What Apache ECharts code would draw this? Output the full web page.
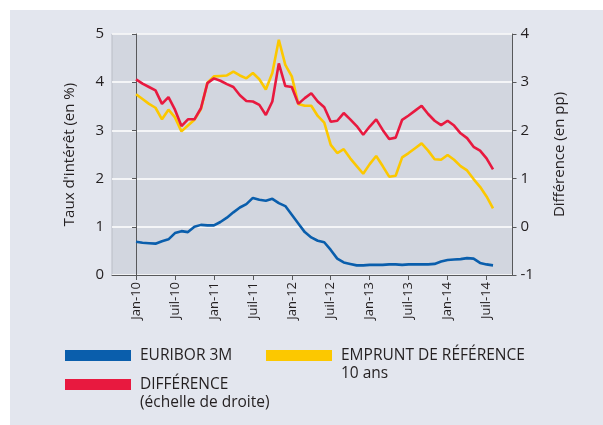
<!DOCTYPE html>
<html><head><meta charset="utf-8">
<script src="https://cdn.jsdelivr.net/npm/echarts@6/dist/echarts.min.js"></script>
<style>html,body{margin:0;padding:0;background:#fff}#c{width:603px;height:425px}</style>
</head><body><div id="c"></div>
<script>
const months = ['Jan-10','Fév-10','Mar-10','Avr-10','Mai-10','Juin-10','Juil-10','Août-10','Sep-10','Oct-10','Nov-10','Déc-10',
'Jan-11','Fév-11','Mar-11','Avr-11','Mai-11','Juin-11','Juil-11','Août-11','Sep-11','Oct-11','Nov-11','Déc-11',
'Jan-12','Fév-12','Mar-12','Avr-12','Mai-12','Juin-12','Juil-12','Août-12','Sep-12','Oct-12','Nov-12','Déc-12',
'Jan-13','Fév-13','Mar-13','Avr-13','Mai-13','Juin-13','Juil-13','Août-13','Sep-13','Oct-13','Nov-13','Déc-13',
'Jan-14','Fév-14','Mar-14','Avr-14','Mai-14','Juin-14','Juil-14','Août-14'];
const tickLabels = ['Jan-10','Juil-10','Jan-11','Juil-11','Jan-12','Juil-12','Jan-13','Juil-13','Jan-14','Juil-14'];
const euribor = [0.69,0.67,0.66,0.65,0.70,0.74,0.87,0.91,0.89,1.00,1.04,1.03,
1.03,1.10,1.19,1.30,1.40,1.47,1.60,1.56,1.54,1.58,1.49,1.43,
1.25,1.07,0.89,0.78,0.71,0.68,0.52,0.34,0.26,0.23,0.20,0.20,
0.21,0.21,0.21,0.22,0.22,0.21,0.22,0.22,0.22,0.22,0.23,0.28,
0.31,0.32,0.33,0.35,0.34,0.25,0.22,0.20];
const emprunt = [3.75,3.65,3.55,3.47,3.23,3.43,3.27,2.98,3.10,3.22,3.44,3.99,
4.12,4.13,4.14,4.22,4.14,4.08,4.19,4.06,3.85,4.19,4.88,4.36,
4.12,3.55,3.51,3.51,3.30,3.16,2.70,2.53,2.61,2.42,2.26,2.10,
2.30,2.47,2.26,2.04,2.06,2.44,2.53,2.63,2.73,2.58,2.40,2.39,
2.49,2.39,2.26,2.17,1.99,1.83,1.63,1.38];
const difference = [3.06,2.97,2.90,2.83,2.55,2.69,2.43,2.09,2.23,2.23,2.46,2.98,
3.08,3.03,2.96,2.90,2.73,2.61,2.60,2.53,2.32,2.60,3.39,2.92,
2.90,2.55,2.67,2.77,2.60,2.48,2.18,2.20,2.36,2.23,2.09,1.91,
2.08,2.23,2.01,1.82,1.85,2.22,2.31,2.41,2.51,2.34,2.20,2.11,
2.20,2.10,1.94,1.84,1.66,1.58,1.42,1.19];
const seriesNames = ['EURIBOR 3M','EMPRUNT DE RÉFÉRENCE\n10 ans','DIFFÉRENCE\n(échelle de droite)'];

const tickIdx = tickLabels.map(t => months.indexOf(t));
const FONT = '"Open Sans", sans-serif';
const colBlue = '#0a5eac', colYellow = '#fcc800', colRed = '#e8193f';
const chart = echarts.init(document.getElementById('c'), null, {renderer:'canvas'});
const toPts = arr => arr.map((v,i)=>[i,v]);
const lg = (name, left, top, multi) => ({
  data:[name], left:left, top:top, orient:'horizontal', padding:0,
  icon:'rect', itemWidth:66, itemHeight:11, selectedMode:false,
  formatter: n => multi ? ' \n' + n : n,
  textStyle:{fontFamily:FONT, fontSize:15.5, color:'#231f20', lineHeight:18, padding:[0,0,0,4]}
});
chart.setOption({
  animation:false,
  graphic:[{type:'rect', left:10, top:10, shape:{width:593, height:415}, style:{fill:'#e3e6ee'}, z:-10}],
  legend:[lg(seriesNames[0],65,346.5,false), lg(seriesNames[1],266,328.5,true), lg(seriesNames[2],65,357.5,true)],
  grid:{left:112, right:90.5, top:34, bottom:150, show:true, backgroundColor:'#d2d6df', borderColor:'#b9bdc6', borderWidth:1},
  xAxis:{type:'value', min:-3.7, max:58,
    axisLine:{show:true, onZero:false, lineStyle:{color:'#58595b', width:1}},
    axisTick:{show:true, customValues:tickIdx, length:5, lineStyle:{color:'#58595b'}},
    axisLabel:{customValues:tickIdx, rotate:90, fontFamily:FONT, fontSize:13, color:'#231f20', margin:7,
      formatter:v=>months[Math.round(v)]},
    splitLine:{show:false}},
  yAxis:[
    {type:'value', min:0, max:5, interval:1, position:'left',
     name:"Taux d'intérêt (en %)", nameLocation:'middle', nameGap:35, nameRotate:90,
     nameTextStyle:{fontFamily:FONT, fontSize:15, color:'#231f20'},
     axisLine:{show:true, lineStyle:{color:'#58595b'}}, axisTick:{show:true, length:4, lineStyle:{color:'#58595b'}},
     axisLabel:{fontFamily:FONT, fontSize:15, color:'#231f20', margin:8},
     splitLine:{show:true, lineStyle:{color:'#ffffff', width:1.5}}},
    {type:'value', min:-1, max:4, interval:1, position:'right',
     name:'Différence (en pp)', nameLocation:'middle', nameGap:40, nameRotate:90,
     nameTextStyle:{fontFamily:FONT, fontSize:15, color:'#231f20'},
     axisLine:{show:true, lineStyle:{color:'#58595b'}}, axisTick:{show:true, length:4, lineStyle:{color:'#58595b'}},
     axisLabel:{fontFamily:FONT, fontSize:15, color:'#231f20', margin:8},
     splitLine:{show:false}}
  ],
  series:[
    {name:seriesNames[0], type:'line', data:toPts(euribor), yAxisIndex:0, showSymbol:false, color:colBlue, lineStyle:{width:2.6, color:colBlue}, z:3},
    {name:seriesNames[1], type:'line', data:toPts(emprunt), yAxisIndex:0, showSymbol:false, color:colYellow, lineStyle:{width:2.6, color:colYellow}, z:4},
    {name:seriesNames[2], type:'line', data:toPts(difference), yAxisIndex:1, showSymbol:false, color:colRed, lineStyle:{width:2.6, color:colRed}, z:5}
  ]
});
</script></body></html>
